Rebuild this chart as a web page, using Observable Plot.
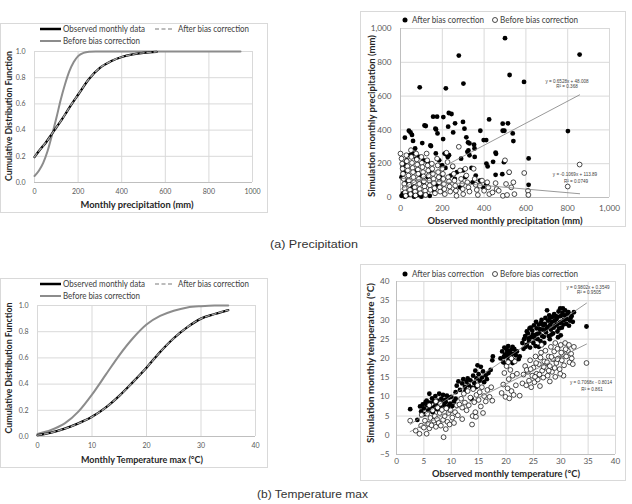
<!DOCTYPE html>
<html>
<head>
<meta charset="utf-8">
<script src="https://cdn.jsdelivr.net/npm/d3@7"></script>
<script src="https://cdn.jsdelivr.net/npm/@observablehq/plot@0.6"></script>
<style>
  html, body { margin: 0; padding: 0; background: #fff; }
  #fig { position: relative; width: 632px; height: 504px; overflow: hidden; background: #fff; }
  .panel { position: absolute; }
</style>
</head>
<body>
<div id="fig"></div>
<script>
// ---- Tick values ----
const cdfTicksY = [0, 0.2, 0.4, 0.6, 0.8, 1.0];
const precipCdfTicksX = [0, 200, 400, 600, 800, 1000];
const tempCdfTicksX = [0, 10, 20, 30, 40];
const precipScatterTicks = [0, 200, 400, 600, 800, 1000];
const tempScatterTicksX = [0, 5, 10, 15, 20, 25, 30, 35, 40];
const tempScatterTicksY = [-5, 0, 5, 10, 15, 20, 25, 30, 35, 40];

// ---- CDF of monthly precipitation (mm) ----
const precipObsX   = [0, 25, 50, 75, 100, 125, 150, 175, 200, 250, 300, 350, 400, 450, 500, 560];
const precipObsCdf = [0.195, 0.25, 0.30, 0.36, 0.42, 0.48, 0.545, 0.61, 0.67, 0.79, 0.875, 0.925, 0.958, 0.978, 0.99, 0.997];
const precipAftX   = [0, 25, 50, 75, 100, 125, 150, 175, 200, 250, 300, 350, 400, 450, 500, 560];
const precipAftCdf = [0.195, 0.25, 0.30, 0.36, 0.42, 0.48, 0.545, 0.61, 0.67, 0.79, 0.875, 0.925, 0.958, 0.978, 0.99, 0.997];
const precipBefX   = [0, 20, 40, 60, 80, 100, 120, 140, 160, 180, 200, 225, 250, 280, 350, 500, 700, 945];
const precipBefCdf = [0.05, 0.09, 0.15, 0.24, 0.36, 0.49, 0.63, 0.75, 0.85, 0.92, 0.965, 0.99, 0.998, 1, 1, 1, 1, 1];

// ---- CDF of monthly maximum temperature (°C) ----
const tempObsX   = [0, 2.5, 5, 7.5, 10, 12.5, 15, 17.5, 20, 22.5, 25, 27.5, 30, 32.5, 35];
const tempObsCdf = [0.01, 0.03, 0.06, 0.10, 0.15, 0.22, 0.31, 0.415, 0.525, 0.645, 0.75, 0.835, 0.90, 0.935, 0.965];
const tempAftX   = [0, 2.5, 5, 7.5, 10, 12.5, 15, 17.5, 20, 22.5, 25, 27.5, 30, 32.5, 35];
const tempAftCdf = [0.01, 0.03, 0.06, 0.10, 0.15, 0.22, 0.31, 0.415, 0.525, 0.645, 0.75, 0.835, 0.90, 0.935, 0.965];
const tempBefX   = [0, 2.5, 5, 7.5, 10, 12.5, 15, 17.5, 20, 22.5, 25, 27.5, 30, 32.5, 35];
const tempBefCdf = [0.02, 0.05, 0.10, 0.19, 0.32, 0.47, 0.62, 0.75, 0.855, 0.92, 0.96, 0.985, 0.995, 1, 1];

// ---- Monthly precipitation: observed vs simulated (mm) ----
const precipAfterPts = [
  [500,943],[279,840],[857,846],[522,725],[92,652],[217,646],[301,674],[591,684],[801,393],
  [21,354],[40,395],[48,385],[55,370],[60,335],[70,290],[104,322],[115,426],[121,423],[146,304],
  [156,478],[175,478],[170,403],[177,379],[205,476],[204,346],[228,419],[231,500],[244,494],
  [252,385],[261,439],[299,447],[306,407],[315,356],[323,326],[330,320],[325,278],[354,290],
  [352,312],[382,395],[398,340],[410,340],[424,462],[489,437],[514,439],[489,395],[497,395],
  [537,379],[540,334],[457,259],[455,266],[417,184],[443,211],[495,209],[613,231],[613,75],
  [455,134],[411,79],[487,138],[519,148],[220,255],[232,250],[226,240],[169,261],[211,260],
  [185,220],[200,190],[196,189],[215,175],[250,180],[270,150],[290,230],[300,160],[320,270],
  [330,250],[340,175],[355,240],[360,130],[380,100],[395,60],[345,90],[310,120],[260,110],
  [240,130],[130,210],[110,220],[90,240],[75,230],[60,260],[45,250],[30,220],[20,200],
  [10,180],[15,150],[5,120],[25,100],[40,80],[55,60],[70,30],[85,15],[100,5],[5,10],[12,25],
  [20,5],[35,15],[50,30],[65,5],[120,20],[140,10],[160,40],[175,70],[190,120],[150,150],
  [130,120],[110,90],[95,130],[80,160],[285,60],[265,40],[411,201],[167,408],[143,308]
];
const precipBeforePts = [
  [0,260],[5,230],[8,200],[10,170],[12,140],[15,110],[18,80],[20,55],[22,30],[25,10],
  [28,250],[30,215],[33,185],[35,160],[38,130],[40,100],[42,75],[45,45],[48,20],
  [50,280],[52,240],[55,205],[58,175],[60,150],[62,120],[65,90],[68,60],[70,35],[72,12],
  [75,260],[78,225],[80,195],[83,165],[85,140],[88,110],[90,80],[92,50],[95,25],
  [100,240],[102,205],[105,180],[108,150],[110,125],[112,95],[115,65],[118,40],[120,15],
  [125,260],[128,220],[130,190],[133,160],[135,130],[138,100],[140,72],[143,45],
  [150,200],[152,170],[155,140],[158,110],[160,85],[163,55],[165,25],
  [175,230],[178,190],[180,150],[183,120],[185,90],[188,60],[190,35],
  [200,170],[203,140],[205,110],[208,80],[210,50],[212,20],
  [220,265],[225,210],[228,120],[232,95],[235,65],[238,35],
  [250,185],[255,140],[258,100],[262,70],[265,40],[268,10],
  [279,300],[285,160],[290,110],[295,80],[298,50],[300,20],
  [310,170],[315,130],[320,90],[325,60],[330,35],
  [350,170],[355,110],[360,75],[365,45],[370,15],
  [380,70],[390,100],[400,40],[415,90],[420,60],[425,20],[440,30],[455,85],[460,50],[470,40],
  [490,10],[500,220],[505,80],[510,15],[520,150],[530,60],[540,90],[545,20],[592,145],
  [610,40],[612,15],[800,65],[857,195]
];

// ---- Monthly temperature: observed vs simulated (°C) ----
const tempAfterPts = [
  [2.5,6.8],[3.8,4.0],[4.3,7.5],[4.5,6.2],[4.8,8.0],[5.0,7.0],[5.2,5.5],[5.5,9.0],[5.6,7.8],[5.8,6.5],
  [6.0,10.8],[6.1,8.5],[6.3,7.2],[6.5,9.6],[6.6,6.0],[6.8,8.8],[7.0,7.5],[7.1,10.2],[7.3,6.8],[7.5,9.0],
  [7.6,8.0],[7.8,10.8],[8.0,7.2],[8.2,9.5],[8.3,8.4],[8.5,10.5],[8.7,7.8],[8.9,9.2],[9.0,8.6],[9.2,10.3],
  [9.4,7.5],[9.6,9.8],[9.8,8.2],[10.0,10.0],[10.2,7.6],[10.5,8.8],[10.8,9.5],[6.2,6.8],[5.3,8.6],[7.9,6.2],
  [10.8,11.2],[11.0,12.9],[11.3,14.0],[11.6,11.8],[12.0,13.5],[12.2,14.6],[12.5,12.6],[12.8,13.9],
  [13.0,14.8],[13.2,13.0],[13.5,14.3],[13.7,9.5],[13.8,12.4],[14.0,15.5],[14.2,13.6],[14.4,16.8],
  [14.6,14.8],[14.8,18.2],[15.0,15.9],[15.2,14.2],[15.4,17.8],[15.6,15.0],[15.8,16.6],[16.0,13.8],
  [16.3,15.6],[16.5,14.6],[16.8,16.2],[17.2,17.0],[17.5,19.5],[17.6,20.5],[12.6,11.6],[14.5,12.5],
  [19.0,20.0],[19.3,21.8],[19.5,19.0],[19.7,22.8],[19.9,20.6],[20.0,18.5],[20.2,21.5],[20.4,23.2],
  [20.5,19.8],[20.7,22.0],[20.9,20.3],[21.0,21.2],[21.2,23.0],[21.4,19.5],[21.5,22.5],[21.8,20.8],
  [22.0,21.8],[22.3,19.8],[22.5,20.5],[21.2,18.8],[20.3,20.6],
  [19.6,20.4],[20.1,22.4],[20.6,21.0],[21.1,22.4],[21.6,21.3],[19.8,21.0],
  [23.0,24.0],[23.2,22.5],[23.5,25.8],[23.8,23.5],[24.0,26.5],[24.2,24.5],[24.4,22.8],[24.6,25.5],
  [24.8,27.2],[25.0,24.0],[25.2,26.0],[25.4,23.2],[25.6,27.8],[25.8,25.0],[26.0,28.8],[26.1,26.5],
  [26.3,24.5],[26.5,30.0],[26.7,27.5],[26.9,25.6],[27.1,29.0],[27.3,26.8],[27.5,32.5],[27.6,28.2],
  [27.8,25.8],[28.0,30.5],[28.2,27.5],[28.4,29.5],[28.6,26.5],[28.8,31.5],[29.0,28.5],[29.2,30.2],
  [29.4,27.0],[29.6,32.2],[29.8,29.2],[30.0,31.0],[30.2,28.0],[30.4,33.0],[30.6,30.0],[30.8,32.5],
  [31.0,29.0],[31.2,31.5],[31.5,28.5],[31.8,30.5],[32.2,29.5],[32.4,32.0],[34.7,28.3],[27.0,24.0],
  [26.0,23.0],[28.0,25.0],[29.5,25.5],[30.0,26.0],[24.5,28.0],[25.5,29.5],[23.8,27.0],
  [23.3,25.0],[23.6,23.0],[24.1,25.2],[24.3,27.8],[24.9,26.2],[25.1,28.6],[25.3,25.2],[25.7,26.4],
  [26.2,27.6],[26.4,29.2],[26.6,25.8],[26.8,28.6],[27.2,30.5],[27.4,27.8],[27.7,29.8],[27.9,31.2],
  [28.1,28.8],[28.3,26.2],[28.5,30.8],[28.7,28.0],[28.9,29.8],[29.1,31.0],[29.3,28.8],[29.5,30.8],
  [29.7,27.8],[29.9,33.0],[30.1,29.5],[30.3,31.8],[30.5,28.8],[30.7,31.2],[31.1,30.2],[31.4,32.0],
  [31.7,29.8],[32.0,31.0]
];
const tempBeforePts = [
  [2.5,3.8],[3.5,1.2],[4.2,0.4],[4.5,2.5],[4.6,5.3],[5.0,2.0],[5.2,3.8],[5.5,0.4],[5.6,5.6],[5.8,3.0],
  [6.0,1.8],[6.2,4.5],[6.4,2.6],[6.6,6.5],[6.8,3.8],[7.0,5.0],[7.2,2.2],[7.4,4.2],[7.5,7.2],[7.7,3.2],
  [7.9,5.8],[8.1,2.5],[8.3,6.6],[8.5,4.0],[8.6,-0.5],[8.8,5.0],[9.0,1.6],[9.1,7.0],[9.3,3.5],[9.5,5.8],
  [9.7,2.8],[9.9,6.5],[10.2,4.6],[10.5,3.2],[10.7,6.0],[11.0,7.8],[6.0,7.8],[7.2,8.8],[8.0,8.2],
  [11.2,5.2],[11.5,8.0],[11.8,9.5],[12.0,7.2],[12.3,10.8],[12.5,8.5],[12.8,6.5],[13.0,11.5],[13.2,7.8],
  [13.5,9.8],[13.8,2.8],[13.9,5.0],[14.0,12.0],[14.2,8.6],[14.4,6.0],[14.6,10.5],[14.8,13.0],[15.0,9.2],
  [15.2,11.2],[15.4,7.5],[15.6,12.5],[16.0,10.2],[16.3,8.8],[16.6,11.8],[17.0,10.0],[17.5,9.0],
  [17.3,12.5],[15.8,5.8],[14.5,4.8],[12.0,4.2],
  [19.2,11.0],[19.5,13.2],[19.7,16.2],[19.9,10.0],[20.1,18.0],[20.3,12.2],[20.5,14.6],[20.6,9.6],
  [20.8,17.0],[21.0,11.5],[21.2,15.5],[21.4,10.5],[21.6,19.2],[21.8,13.0],[22.0,16.0],[22.5,10.3],
  [21.0,20.0],[20.4,19.0],
  [23.0,13.5],[23.2,15.8],[23.5,18.0],[23.7,13.0],[24.0,16.5],[24.2,14.2],[24.4,19.5],[24.6,12.5],
  [24.8,15.5],[25.0,17.6],[25.2,13.8],[25.4,20.5],[25.6,16.0],[25.8,14.5],[26.0,18.5],[26.2,12.8],
  [26.4,21.5],[26.6,16.8],[26.8,15.0],[27.0,19.2],[27.2,22.0],[27.4,17.5],[27.6,15.5],[27.8,20.5],
  [28.0,18.0],[28.2,23.0],[28.4,16.5],[28.6,19.8],[28.8,21.8],[29.0,15.2],[29.2,18.8],[29.4,22.5],
  [29.6,20.0],[29.8,17.2],[30.0,23.5],[30.2,19.5],[30.4,21.0],[30.6,18.2],[30.8,24.0],[31.0,20.5],
  [31.3,22.0],[31.6,19.0],[31.9,21.2],[32.2,18.5],[32.4,23.0],[34.7,18.8],[30.5,15.5],[29.0,24.0],
  [26.5,23.5],[28.0,14.0],
  [23.8,17.0],[24.5,17.2],[25.3,15.2],[26.1,15.8],[26.9,17.8],[27.5,19.0],[28.3,20.4],[28.9,17.5],
  [29.4,19.8],[30.1,21.5],[30.9,22.4],[31.5,23.5],[32.0,20.0],[27.8,16.8],[29.9,16.0],[26.3,20.2],
  [25.5,18.8]
];

// ---- Linear fits (slope, intercept, x-range) ----
const precipFitAfter  = [0.6528, 48.008, 0, 857];
const precipFitBefore = [-0.1069, 113.89, 0, 857];
const tempFitAfter    = [0.9802, 0.3549, 2.5, 34.7];
const tempFitBefore   = [0.7068, -0.8014, 2.5, 34.7];

// ---- Helpers ----
const zip = (xs, ys) => xs.map((x, i) => ({x, y: ys[i]}));
const fitLine = ([m, b, x0, x1]) => [{x: x0, y: m * x0 + b}, {x: x1, y: m * x1 + b}];
const FONT = "Lato, 'Liberation Sans', sans-serif";
const GRID = "#d9d9d9";
const fig = document.getElementById("fig");

function mount(plot, left, top) {
  const div = document.createElement("div");
  div.className = "panel";
  div.style.left = left + "px";
  div.style.top = top + "px";
  div.appendChild(plot);
  fig.appendChild(div);
}

function cdfPanel({xDomain, xTicks, obs, aft, bef, w, h, m}) {
  return Plot.plot({
    width: w, height: h,
    marginLeft: m[0], marginRight: m[1], marginTop: m[2], marginBottom: m[3],
    style: {fontFamily: FONT, fontSize: "7px", color: "#595959", background: "transparent", overflow: "visible"},
    x: {domain: xDomain, ticks: xTicks, tickSize: 0, tickPadding: 7, tickFormat: d3.format("d"), label: null},
    y: {domain: [0, 1], ticks: cdfTicksY, tickSize: 0, tickPadding: 9, tickFormat: d3.format(".1f"), label: null},
    marks: [
      Plot.ruleX(xTicks, {stroke: GRID, strokeWidth: 1}),
      Plot.ruleY(cdfTicksY, {stroke: GRID, strokeWidth: 1}),
      Plot.ruleY([0], {stroke: "#bfbfbf", strokeWidth: 1}),
      Plot.line(bef, {x: "x", y: "y", stroke: "#8c8c8c", strokeWidth: 2, curve: "monotone-x"}),
      Plot.line(obs, {x: "x", y: "y", stroke: "#000", strokeWidth: 2.3, curve: "monotone-x"}),
      Plot.line(aft, {x: "x", y: "y", stroke: "#a6a6a6", strokeWidth: 1.3, strokeDasharray: "4,3", curve: "monotone-x"})
    ]
  });
}

function scatterPanel({xDomain, yDomain, xTicks, yTicks, fmt, after, before, fits, w, h, m, pad}) {
  return Plot.plot({
    width: w, height: h,
    marginLeft: m[0], marginRight: m[1], marginTop: m[2], marginBottom: m[3],
    style: {fontFamily: FONT, fontSize: "8.2px", color: "#595959", background: "transparent", overflow: "visible"},
    x: {domain: xDomain, ticks: xTicks, tickSize: 0, tickPadding: pad[0], tickFormat: fmt, label: null},
    y: {domain: yDomain, ticks: yTicks, tickSize: 0, tickPadding: pad[1], tickFormat: fmt, label: null},
    marks: [
      Plot.ruleX(xTicks, {stroke: GRID, strokeWidth: 1}),
      Plot.ruleY(yTicks, {stroke: GRID, strokeWidth: 1}),
      Plot.ruleY([yDomain[0]], {stroke: "#bfbfbf", strokeWidth: 1}),
      Plot.ruleX([xDomain[0]], {stroke: "#bfbfbf", strokeWidth: 1}),
      Plot.dot(after, {x: d => d[0], y: d => d[1], r: 2.4, fill: "#000", stroke: "none"}),
      Plot.dot(before, {x: d => d[0], y: d => d[1], r: 2.4, fill: "#fff", stroke: "#000", strokeWidth: 0.7}),
      ...fits.map(f => Plot.line(fitLine(f), {x: "x", y: "y", stroke: "#7f7f7f", strokeWidth: 0.8}))
    ]
  });
}

// ---- Panels ----
mount(cdfPanel({
  xDomain: [0, 1000], xTicks: precipCdfTicksX,
  obs: zip(precipObsX, precipObsCdf), aft: zip(precipAftX, precipAftCdf), bef: zip(precipBefX, precipBefCdf),
  w: 268, h: 190, m: [34, 16, 28, 31]
}), 0, 23);

mount(scatterPanel({
  xDomain: [0, 1000], yDomain: [0, 1000], xTicks: precipScatterTicks, yTicks: precipScatterTicks,
  fmt: d3.format(","), after: precipAfterPts, before: precipBeforePts,
  fits: [precipFitAfter, precipFitBefore],
  w: 266, h: 216, m: [40, 17, 17, 30], pad: [8, 9]
}), 360, 11);

mount(cdfPanel({
  xDomain: [0, 40], xTicks: tempCdfTicksX,
  obs: zip(tempObsX, tempObsCdf), aft: zip(tempAftX, tempAftCdf), bef: zip(tempBefX, tempBefCdf),
  w: 268, h: 190, m: [37, 13, 27, 32]
}), 0, 278);

mount(scatterPanel({
  xDomain: [0, 40], yDomain: [-5, 40], xTicks: tempScatterTicksX, yTicks: tempScatterTicksY,
  fmt: d3.format("d"), after: tempAfterPts, before: tempBeforePts,
  fits: [tempFitAfter, tempFitBefore],
  w: 266, h: 217, m: [36, 11, 17, 27], pad: [4, 7]
}), 360, 264);

// ---- Frames, titles, legends and captions ----
const ov = d3.select(fig).append("svg")
  .attr("width", 632).attr("height", 504)
  .style("position", "absolute").style("left", 0).style("top", 0)
  .style("pointer-events", "none");

function box(x, y, w, h) {
  ov.append("rect").attr("x", x + 0.5).attr("y", y + 0.5).attr("width", w - 1).attr("height", h - 1)
    .attr("fill", "none").attr("stroke", "#d9d9d9").attr("stroke-width", 1);
}
function txt(s, x, y, o = {}) {
  const t = ov.append("text").attr("x", x).attr("y", y).attr("dy", "0.35em").text(s)
    .attr("font-family", o.family || FONT).attr("font-size", o.size || 9)
    .attr("font-weight", o.weight || 400).attr("fill", o.color || "#262626")
    .attr("text-anchor", o.anchor || "start");
  if (o.len) t.attr("textLength", o.len).attr("lengthAdjust", "spacingAndGlyphs");
  if (o.rotate) t.attr("transform", `rotate(${o.rotate},${x},${y})`);
  return t;
}
function seg(x1, x2, y, stroke, width, dash) {
  const l = ov.append("line").attr("x1", x1).attr("x2", x2).attr("y1", y).attr("y2", y)
    .attr("stroke", stroke).attr("stroke-width", width);
  if (dash) l.attr("stroke-dasharray", dash);
}
function marker(x, y, filled) {
  ov.append("circle").attr("cx", x).attr("cy", y).attr("r", 2.5)
    .attr("fill", filled ? "#000" : "#fff").attr("stroke", "#000").attr("stroke-width", filled ? 0 : 0.7);
}

box(0, 23, 268, 190);
box(360, 11, 266, 216);
box(0, 278, 268, 190);
box(360, 264, 266, 217);

// CDF legends
const leg = {size: 9, color: "#404040"};
function cdfLegend(y1, y2) {
  seg(40, 61, y1, "#000", 2.5);
  txt("Observed monthly data", 63, y1, {...leg, len: 82});
  seg(155, 174, y1, "#a6a6a6", 1.5, "4,2.5");
  txt("After bias correction", 178, y1, {...leg, len: 71});
  seg(40, 61, y2, "#8c8c8c", 2);
  txt("Before bias correction", 63, y2, {...leg, len: 77});
}
cdfLegend(29, 41);
cdfLegend(284, 296);

// Scatter legends
function scatterLegend(y) {
  marker(405, y, true);
  txt("After bias correction", 412, y, {...leg, len: 72});
  marker(495, y, false);
  txt("Before bias correction", 500, y, {...leg, len: 78});
}
scatterLegend(20);
scatterLegend(274);

// Axis titles
const bold = {weight: 700, anchor: "middle", color: "#262626"};
txt("Cumulative Distribution Function", 8.5, 116, {...bold, size: 9, rotate: -90, len: 130});
txt("Monthly precipitation (mm)", 137, 205, {...bold, size: 9.5, len: 113});
txt("Cumulative Distribution Function", 8.5, 368, {...bold, size: 9, rotate: -90, len: 131});
txt("Monthly Temperature max (°C)", 142, 460, {...bold, size: 9.5, len: 122});
txt("Simulation  monthly precipitation  (mm)", 371, 116, {...bold, size: 10, rotate: -90, len: 162});
txt("Observed monthly precipitation (mm)", 505, 220, {...bold, size: 10, len: 155});
txt("Simulation  monthly temperature (°C)", 370, 363, {...bold, size: 10, rotate: -90, len: 160});
txt("Observed monthly temperature (°C)", 506, 473, {...bold, size: 10, len: 148});

// Fit equations
const eq = {size: 4.6, anchor: "middle", color: "#404040", family: "'Liberation Sans', sans-serif"};
txt("y = 0.6528x + 48.008", 567, 81, eq);
txt("R² = 0.368", 567, 86.5, eq);
txt("y = -0.1069x + 113.89", 575, 174, eq);
txt("R² = 0.0749", 576, 181, eq);
txt("y = 0.9802x + 0.3549", 588, 287, eq);
txt("R² = 0.9505", 589, 292.5, eq);
txt("y = 0.7068x - 0.8014", 591, 382, eq);
txt("R² = 0.861", 592, 389, eq);

// Captions
const cap = {size: 10.5, color: "#333", family: "'Liberation Sans', sans-serif"};
txt("(a) Precipitation", 270, 244, {...cap, len: 88});
txt("(b) Temperature max", 257, 494, {...cap, len: 111});
</script>
</body>
</html>
